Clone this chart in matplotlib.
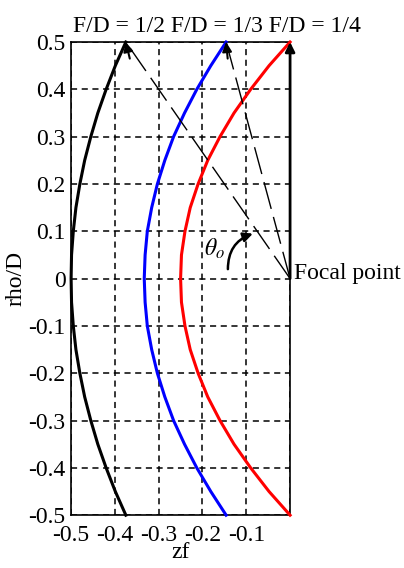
import matplotlib
matplotlib.use('Agg')
import matplotlib.pyplot as plt

plt.rcParams['font.family'] = 'Liberation Serif'
plt.rcParams['mathtext.fontset'] = 'stix'
plt.rcParams['axes.unicode_minus'] = False

rho = [-0.5, -0.45, -0.4, -0.35, -0.3, -0.25, -0.2, -0.15, -0.1, -0.05, 0.0,
       0.05, 0.1, 0.15, 0.2, 0.25, 0.3, 0.35, 0.4, 0.45, 0.5]
zf_half = [-0.375, -0.399, -0.42, -0.439, -0.455, -0.469, -0.48, -0.489, -0.495, -0.499, -0.5,
           -0.499, -0.495, -0.489, -0.48, -0.469, -0.455, -0.439, -0.42, -0.399, -0.375]
zf_third = [-0.146, -0.181, -0.213, -0.241, -0.266, -0.286, -0.303, -0.316, -0.326, -0.331, -0.333,
            -0.331, -0.326, -0.316, -0.303, -0.286, -0.266, -0.241, -0.213, -0.181, -0.146]
zf_quarter = [0.0, -0.048, -0.09, -0.128, -0.16, -0.188, -0.21, -0.228, -0.24, -0.248, -0.25,
              -0.248, -0.24, -0.228, -0.21, -0.188, -0.16, -0.128, -0.09, -0.048, 0.0]

xticks = [-0.5, -0.4, -0.3, -0.2, -0.1, 0.0]
xticklabels = ['-0.5', '-0.4', '-0.3', '-0.2', '-0.1', '']
yticks = [-0.5, -0.4, -0.3, -0.2, -0.1, 0.0, 0.1, 0.2, 0.3, 0.4, 0.5]
yticklabels = ['-0.5', '-0.4', '-0.3', '-0.2', '-0.1', '0', '0.1', '0.2', '0.3', '0.4', '0.5']
focal = (0.0, 0.0)
rim_points = [(-0.375, 0.5), (-0.146, 0.5)]

fs = 17

fig = plt.figure(figsize=(4.04, 5.68), dpi=100)
ax = fig.add_axes([0.176, 0.093, 0.542, 0.833])

ax.plot(zf_half, rho, color='black', lw=2.2, clip_on=False, zorder=3)
ax.plot(zf_third, rho, color='blue', lw=2.2, clip_on=False, zorder=3)
ax.plot(zf_quarter, rho, color='red', lw=2.2, clip_on=False, zorder=3)

# rays from focal point to the rim
for (x, y) in rim_points:
    ax.plot([focal[0], x], [focal[1], y], color='black', lw=1.0,
            dashes=(20, 6), clip_on=False, zorder=4)
    ax.annotate('', xy=(x, y), xytext=(x + 0.012 * (-x) / 0.5, y - 0.035),
                arrowprops=dict(arrowstyle='-|>', color='black', lw=1.5,
                                mutation_scale=14, shrinkA=0, shrinkB=0),
                annotation_clip=False, zorder=5)
ax.annotate('', xy=(0.0, 0.5), xytext=(0.0, 0.0),
            arrowprops=dict(arrowstyle='-|>', color='black', lw=2,
                            mutation_scale=14, shrinkA=0, shrinkB=0),
            annotation_clip=False, zorder=5)

# angle arc
ax.annotate('', xy=(-0.085, 0.095), xytext=(-0.142, 0.02),
            arrowprops=dict(arrowstyle='-|>', color='black', lw=1.8,
                            mutation_scale=14, shrinkA=0, shrinkB=0,
                            connectionstyle='arc3,rad=-0.35'),
            zorder=5)
ax.text(-0.172, 0.062, r'$\theta_o$', fontsize=fs, ha='center', va='center')
ax.text(0.008, 0.0, 'Focal point', fontsize=fs, ha='left', va='baseline',
        clip_on=False)

ax.set_xlim(-0.5, 0.0)
ax.set_ylim(-0.5, 0.5)
ax.set_xticks(xticks)
ax.set_xticklabels(xticklabels, fontsize=fs)
ax.set_yticks(yticks)
ax.set_yticklabels(yticklabels, fontsize=fs)
ax.tick_params(length=0)
ax.tick_params(axis='x', pad=7)
ax.tick_params(axis='y', pad=4)
ax.grid(True, color='black', lw=1.1, dashes=(4, 3))
for s in ax.spines.values():
    s.set_linewidth(1.2)
ax.set_xlabel('zf', fontsize=fs, labelpad=-3)
ax.set_ylabel('rho/D', fontsize=fs, labelpad=1)

fig.text(0.181, 0.944, 'F/D = 1/2 F/D = 1/3 F/D = 1/4', fontsize=fs,
         ha='left', va='baseline')

fig.savefig('out.png', dpi=100)
